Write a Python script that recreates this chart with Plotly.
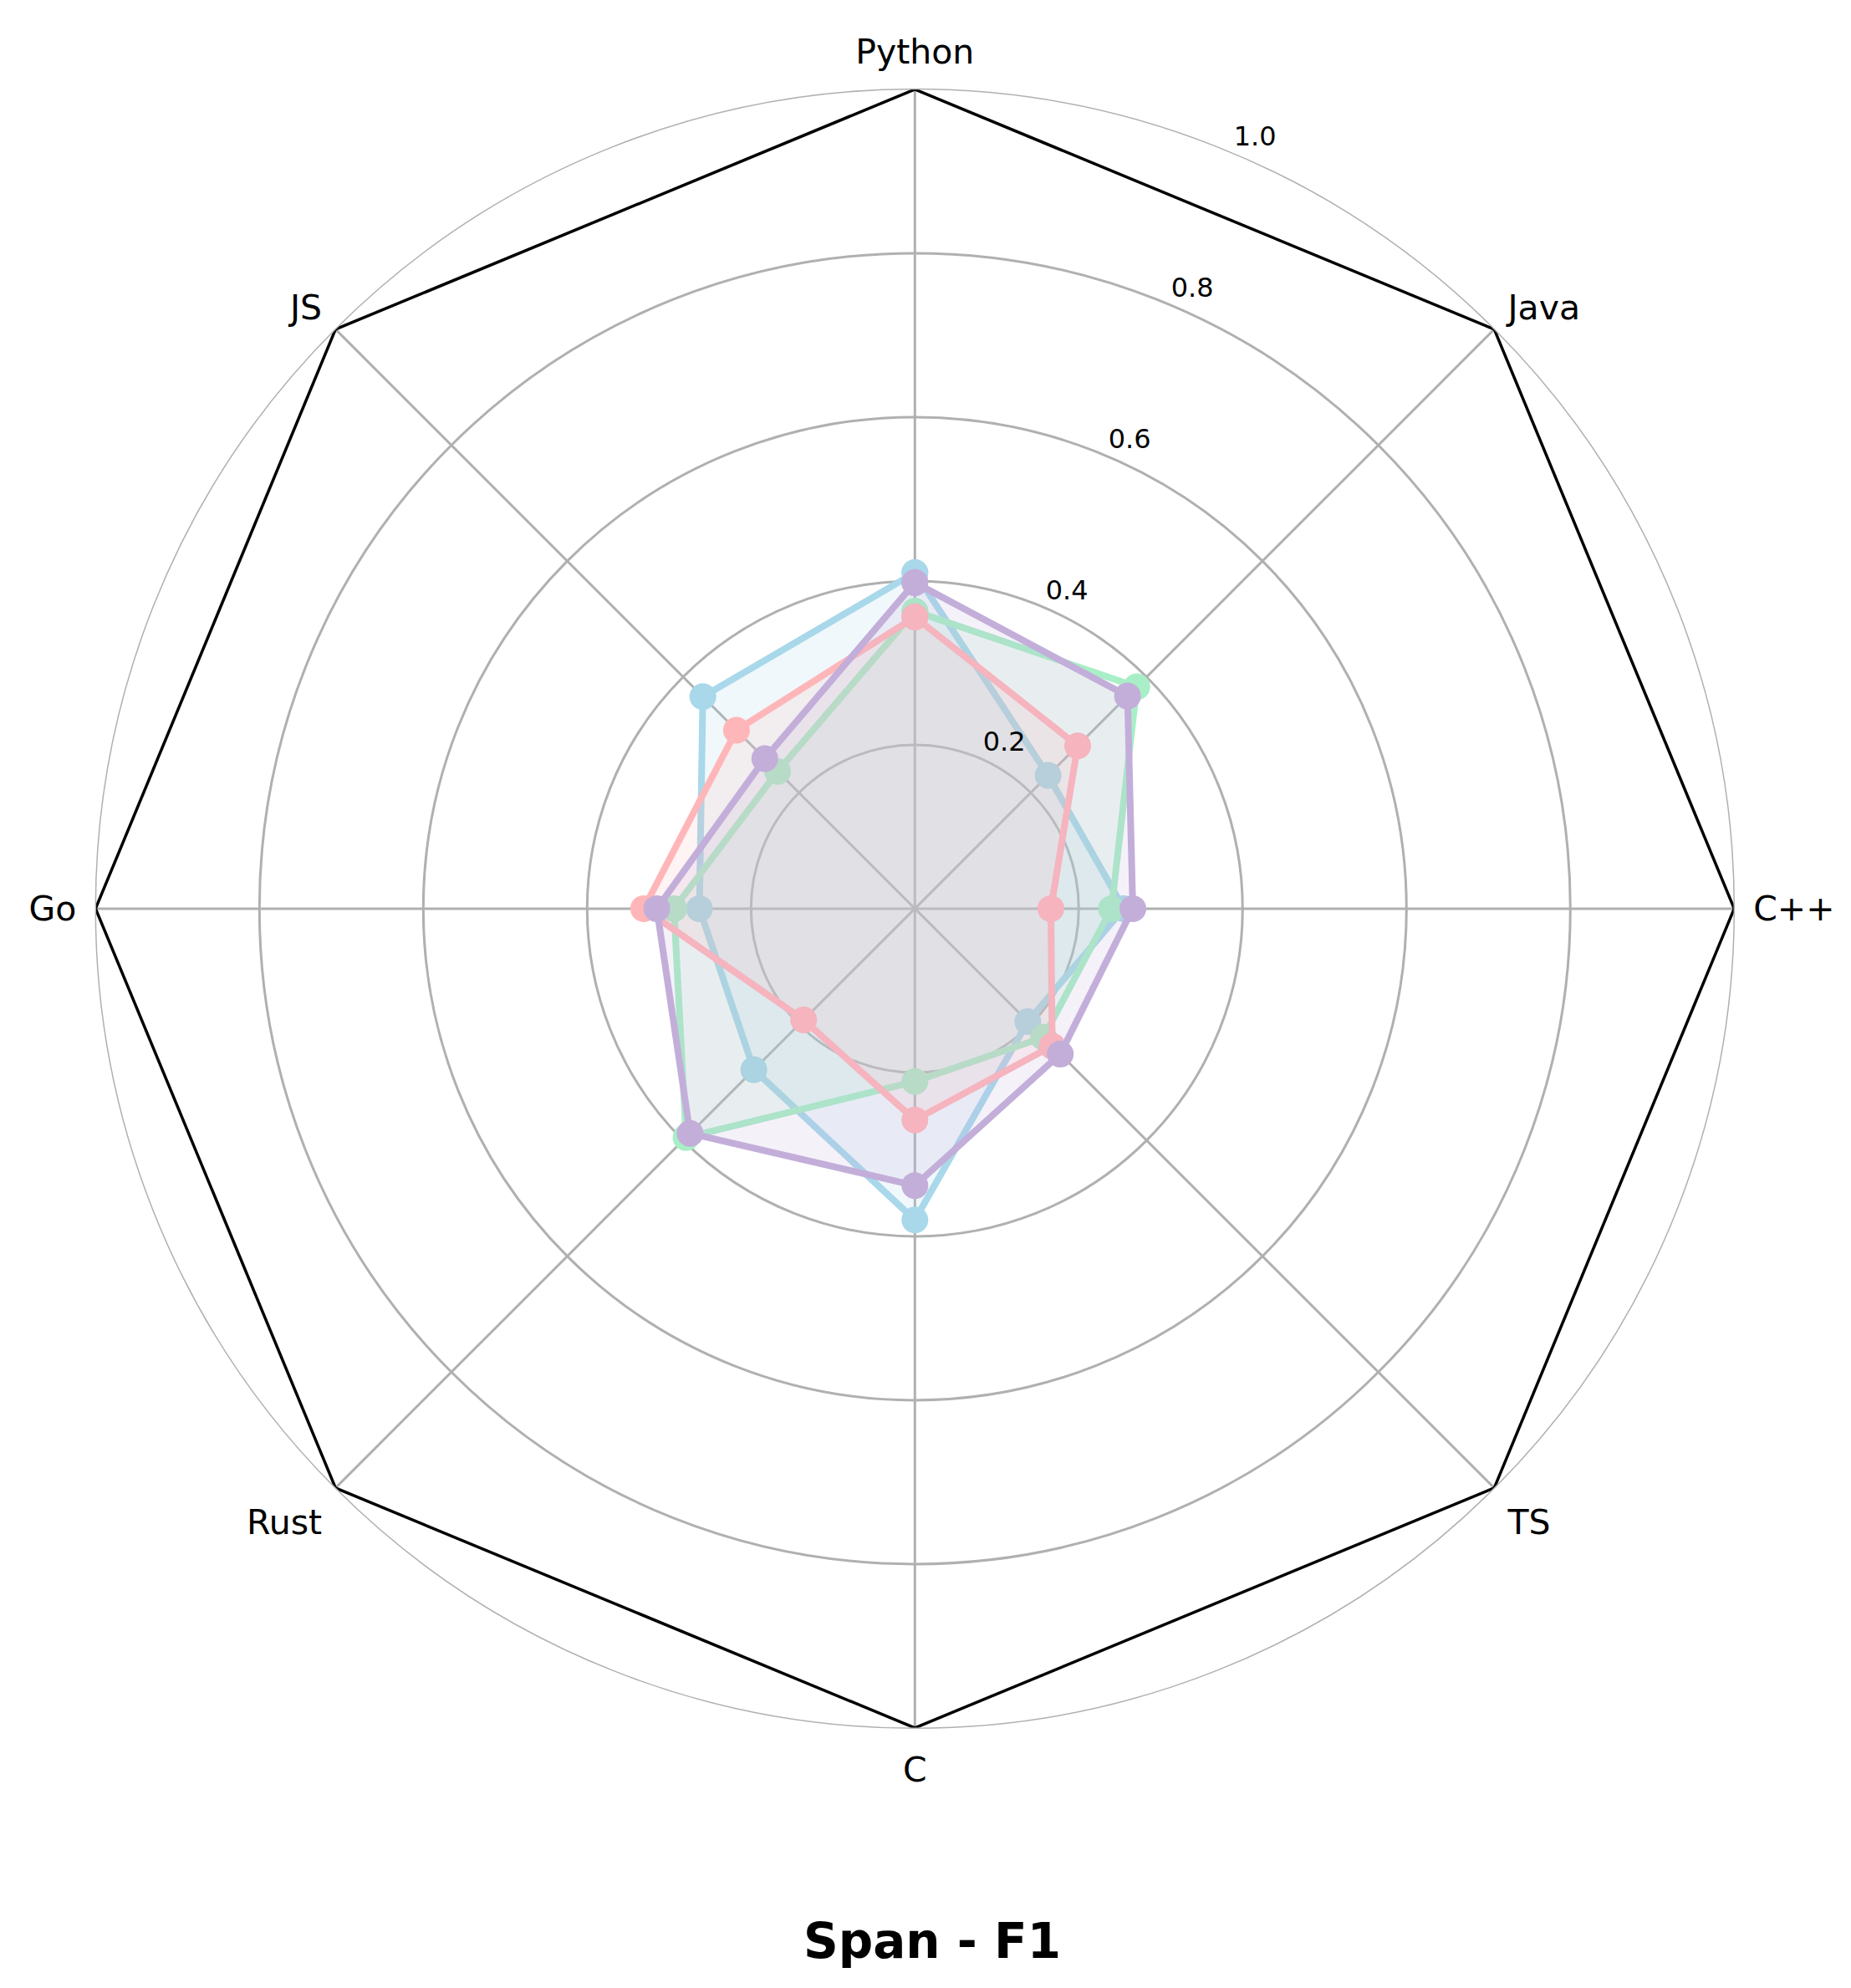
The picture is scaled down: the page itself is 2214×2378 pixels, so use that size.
import plotly.graph_objects as go

# languages, clockwise from the top
categories = ["Python", "Java", "C++", "TS", "C", "Rust", "Go", "JS"]

series_names = ["Model A", "Model B", "Model C", "Model D"]
model_a = [0.41, 0.23, 0.255, 0.195, 0.38, 0.278, 0.263, 0.366]
model_b = [0.363, 0.383, 0.24, 0.222, 0.211, 0.395, 0.294, 0.237]
model_c = [0.356, 0.281, 0.166, 0.237, 0.258, 0.192, 0.331, 0.308]
model_d = [0.398, 0.367, 0.266, 0.251, 0.338, 0.388, 0.315, 0.259]

radial_ticks = [0.2, 0.4, 0.6, 0.8, 1.0]

colors = ["#A8D8EA", "#A8EEC6", "#FFB6B9", "#C3AEDA"]
fills = ["rgba(168,216,234,0.17)", "rgba(168,238,198,0.17)",
         "rgba(255,182,185,0.17)", "rgba(195,174,218,0.17)"]

# main polar area (square in pixels), and a slightly larger overlay with the
# same centre and scale so labels just past r=1 are not clipped
W, H = 2214, 2378
cx, cy, rad = 0.49065 * W, 0.5463 * H, 980
lab_max = 1.05


def square_domain(radius_px):
    return dict(x=[(cx - radius_px) / W, (cx + radius_px) / W],
                y=[(cy - radius_px) / H, (cy + radius_px) / H])


fig = go.Figure()

# black octagon frame at r = 1
theta_closed = categories + categories[:1]
fig.add_trace(go.Scatterpolar(
    r=[1.0] * len(theta_closed), theta=theta_closed, mode="lines",
    line=dict(color="black", width=3.5), hoverinfo="skip", showlegend=False))

for name, vals, c, fc in zip(series_names, [model_a, model_b, model_c, model_d], colors, fills):
    fig.add_trace(go.Scatterpolar(
        r=vals + vals[:1], theta=theta_closed, name=name,
        mode="lines+markers", fill="toself", fillcolor=fc,
        line=dict(color=c, width=8), marker=dict(color=c, size=32),
        showlegend=False))

# radial tick labels along the 22.5 deg ray (overlay polar)
fig.add_trace(go.Scatterpolar(
    r=[v + 0.017 for v in radial_ticks], theta=[22.5] * len(radial_ticks),
    mode="text", text=[f"{v:.1f}" for v in radial_ticks],
    textposition="middle right", textfont=dict(size=32, color="black"),
    cliponaxis=False, subplot="polar2", hoverinfo="skip", showlegend=False))

fig.update_layout(
    width=W, height=H,
    template="none",
    paper_bgcolor="white",
    margin=dict(l=0, r=0, t=0, b=0),
    font=dict(family="DejaVu Sans", color="black"),
    title=dict(text="<b>Span - F1</b>", x=0.5, xanchor="center",
               y=1 - 2314 / 2378, yanchor="middle",
               font=dict(size=58, family="DejaVu Sans", color="black")),
    polar=dict(
        domain=square_domain(rad),
        bgcolor="white",
        radialaxis=dict(range=[0, 1], tickvals=radial_ticks,
                        showticklabels=False, showline=False, ticks="",
                        gridcolor="#b0b0b0", gridwidth=3),
        angularaxis=dict(rotation=90, direction="clockwise",
                         gridcolor="#b0b0b0", gridwidth=3,
                         showline=True, linecolor="#b0b0b0", linewidth=1.5,
                         ticks="outside", ticklen=14, tickcolor="rgba(0,0,0,0)",
                         tickfont=dict(size=41, color="black")),
    ),
    polar2=dict(
        domain=square_domain(rad * lab_max),
        bgcolor="rgba(0,0,0,0)",
        radialaxis=dict(range=[0, lab_max], visible=False),
        angularaxis=dict(rotation=90, direction="clockwise", visible=False),
    ),
)

fig.write_html("out.html")
